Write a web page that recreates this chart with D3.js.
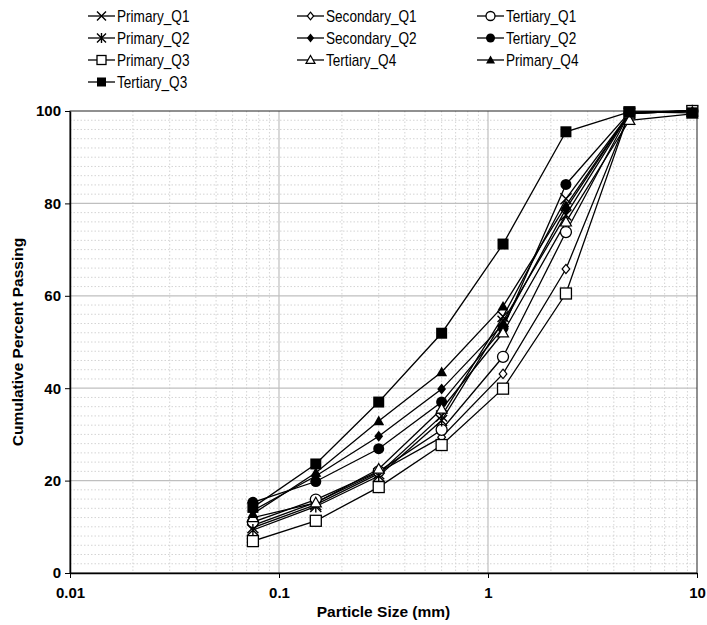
<!DOCTYPE html>
<html><head><meta charset="utf-8">
<script src="https://cdn.jsdelivr.net/npm/d3@7"></script>
<style>body{margin:0;background:#fff;} text{font-family:"Liberation Sans",Arial,sans-serif;}</style>
</head><body><svg id="c" width="707" height="625"></svg>
<script>
const sizes = [0.075, 0.15, 0.3, 0.6, 1.18, 2.36, 4.75, 9.5];
const seriesNames = ["Primary_Q1","Secondary_Q1","Tertiary_Q1","Primary_Q2","Secondary_Q2","Tertiary_Q2","Primary_Q3","Tertiary_Q4","Primary_Q4","Tertiary_Q3"];
const Primary_Q1   = [9.8, 14.8, 21.5, 34.0, 55.5, 81.0, 99.5, 100];
const Secondary_Q1 = [10.3, 15.3, 21.8, 29.4, 43.1, 65.8, 99.5, 100];
const Tertiary_Q1  = [11.0, 15.9, 22.0, 31.0, 46.8, 73.8, 99.5, 100];
const Primary_Q2   = [9.3, 14.4, 21.0, 33.0, 54.5, 77.5, 99.5, 100];
const Secondary_Q2 = [13.5, 21.0, 29.6, 39.8, 53.8, 78.8, 99.6, 100];
const Tertiary_Q2  = [15.3, 19.8, 26.9, 37.0, 53.0, 84.1, 99.7, 100];
const Primary_Q3   = [6.9, 11.3, 18.6, 27.7, 39.9, 60.5, 99.7, 100];
const Tertiary_Q4  = [12.0, 15.2, 22.5, 35.5, 52.0, 76.0, 98.0, 99.4];
const Primary_Q4   = [12.8, 21.7, 32.9, 43.5, 57.7, 79.5, 99.6, 100];
const Tertiary_Q3  = [14.2, 23.6, 37.0, 51.9, 71.2, 95.5, 99.8, 99.6];
const seriesValues = [Primary_Q1, Secondary_Q1, Tertiary_Q1, Primary_Q2, Secondary_Q2, Tertiary_Q2, Primary_Q3, Tertiary_Q4, Primary_Q4, Tertiary_Q3];
const markerTypes = ["cross","diamondOpen","circleOpen","star","diamond","circle","squareOpen","triangleOpen","triangle","square"];
const xTicks = [0.01, 0.1, 1, 10];
const xTickLabels = ["0.01","0.1","1","10"];
const yTicks = [0, 20, 40, 60, 80, 100];

const svg = d3.select("#c");
const L = 70, R = 697, T = 111, B = 573;
const x = d3.scaleLog().domain([0.01, 10]).range([L, R]);
const y = d3.scaleLinear().domain([0, 100]).range([B, T]);

// minor grid
const minorX = [];
for (let d = 0.01; d < 10; d *= 10) for (let k = 2; k <= 9; k++) minorX.push(d * k);
svg.append("g").selectAll("line").data(minorX).join("line")
  .attr("x1", d => x(d)).attr("x2", d => x(d)).attr("y1", T).attr("y2", B)
  .attr("stroke", "#d4d4d4").attr("stroke-width", 1).attr("stroke-dasharray", "1.5,2");
const minorY = d3.range(2, 100, 2).filter(v => v % 20 !== 0);
svg.append("g").selectAll("line").data(minorY).join("line")
  .attr("x1", L).attr("x2", R).attr("y1", d => y(d)).attr("y2", d => y(d))
  .attr("stroke", "#d4d4d4").attr("stroke-width", 1).attr("stroke-dasharray", "1.5,2");
// major grid
svg.append("g").selectAll("line").data([0.1, 1]).join("line")
  .attr("x1", d => x(d)).attr("x2", d => x(d)).attr("y1", T).attr("y2", B)
  .attr("stroke", "#bfbfbf").attr("stroke-width", 1.2);
svg.append("g").selectAll("line").data([20, 40, 60, 80]).join("line")
  .attr("x1", L).attr("x2", R).attr("y1", d => y(d)).attr("y2", d => y(d))
  .attr("stroke", "#bfbfbf").attr("stroke-width", 1.2);
// border
svg.append("rect").attr("x", L).attr("y", T).attr("width", R - L).attr("height", B - T)
  .attr("fill", "none").attr("stroke", "#222").attr("stroke-width", 1);

// axes
const xAxis = d3.axisBottom(x).tickValues(xTicks).tickFormat((d, i) => xTickLabels[i]).tickSize(5).tickSizeOuter(0);
const gx = svg.append("g").attr("transform", `translate(0,${B})`).call(xAxis);
gx.select(".domain").attr("stroke", "#000").attr("stroke-width", 1.5);
gx.selectAll(".tick line").attr("stroke", "#000");
gx.selectAll("text").attr("font-size", 15).attr("font-weight", "bold").attr("fill", "#000").attr("dy", "1.15em");
const yAxis = d3.axisLeft(y).tickValues(yTicks).tickSize(5).tickSizeOuter(0);
const gy = svg.append("g").attr("transform", `translate(${L},0)`).call(yAxis);
gy.select(".domain").attr("stroke", "#000").attr("stroke-width", 1.5);
gy.selectAll(".tick line").attr("stroke", "#000");
gy.selectAll("text").attr("font-size", 15).attr("font-weight", "bold").attr("fill", "#000").attr("x", -9);

svg.append("text").attr("x", (L + R) / 2).attr("y", 617).attr("text-anchor", "middle")
  .attr("font-size", 15.5).attr("font-weight", "bold").text("Particle Size (mm)");
svg.append("text").attr("transform", `translate(23,${(T + B) / 2}) rotate(-90)`).attr("text-anchor", "middle")
  .attr("font-size", 15.5).attr("font-weight", "bold").text("Cumulative Percent Passing");

// markers
function drawMarker(g, type, s) {
  const r = s / 2;
  switch (type) {
    case "cross":
      g.append("path").attr("d", `M${-r},${-r}L${r},${r}M${-r},${r}L${r},${-r}`).attr("stroke", "#000").attr("stroke-width", 1.4).attr("fill", "none"); break;
    case "star":
      g.append("path").attr("d", `M${-r},${-r}L${r},${r}M${-r},${r}L${r},${-r}M0,${-r * 1.1}L0,${r * 1.1}`).attr("stroke", "#000").attr("stroke-width", 1.4).attr("fill", "none"); break;
    case "squareOpen":
      g.append("rect").attr("x", -r).attr("y", -r).attr("width", s).attr("height", s).attr("fill", "#fff").attr("stroke", "#000").attr("stroke-width", 1.3); break;
    case "square":
      g.append("rect").attr("x", -r).attr("y", -r).attr("width", s).attr("height", s).attr("fill", "#000"); break;
    case "circleOpen":
      g.append("circle").attr("r", r).attr("fill", "#fff").attr("stroke", "#000").attr("stroke-width", 1.3); break;
    case "circle":
      g.append("circle").attr("r", r).attr("fill", "#000"); break;
    case "diamondOpen":
      g.append("path").attr("d", `M0,${-r * 0.85}L${r * 0.7},0L0,${r * 0.85}L${-r * 0.7},0Z`).attr("fill", "#fff").attr("stroke", "#000").attr("stroke-width", 1.2); break;
    case "diamond":
      g.append("path").attr("d", `M0,${-r}L${r * 0.8},0L0,${r}L${-r * 0.8},0Z`).attr("fill", "#000"); break;
    case "triangleOpen":
      g.append("path").attr("d", `M0,${-r}L${r},${r * 0.75}L${-r},${r * 0.75}Z`).attr("fill", "#fff").attr("stroke", "#000").attr("stroke-width", 1.2); break;
    case "triangle":
      g.append("path").attr("d", `M0,${-r}L${r},${r * 0.75}L${-r},${r * 0.75}Z`).attr("fill", "#000"); break;
  }
}

const line = d3.line().x(d => x(d[0])).y(d => y(d[1]));
const plot = svg.append("g");
seriesNames.forEach((name, i) => {
  const pts = sizes.map((s, j) => [s, seriesValues[i][j]]);
  plot.append("path").datum(pts).attr("d", line).attr("fill", "none").attr("stroke", "#000").attr("stroke-width", 1.3);
});
seriesNames.forEach((name, i) => {
  const pts = sizes.map((s, j) => [s, seriesValues[i][j]]);
  pts.forEach(p => {
    const g = plot.append("g").attr("transform", `translate(${x(p[0])},${y(p[1])})`);
    drawMarker(g, markerTypes[i], 11);
  });
});

// legend
const colX = [88, 297, 477];
const rowY = [16, 38, 60, 82];
const leg = svg.append("g");
seriesNames.forEach((name, i) => {
  const cx = colX[i % 3], cy = rowY[Math.floor(i / 3)];
  const g = leg.append("g").attr("transform", `translate(${cx},${cy})`);
  g.append("line").attr("x1", 0).attr("x2", 27).attr("y1", 0).attr("y2", 0).attr("stroke", "#000").attr("stroke-width", 1.3);
  const m = g.append("g").attr("transform", "translate(13.5,0)");
  drawMarker(m, markerTypes[i], 9);
  g.append("text").attr("transform", "translate(29,5.5) scale(0.85,1)").attr("font-size", 16).attr("fill", "#000").text(name);
});
</script></body></html>
